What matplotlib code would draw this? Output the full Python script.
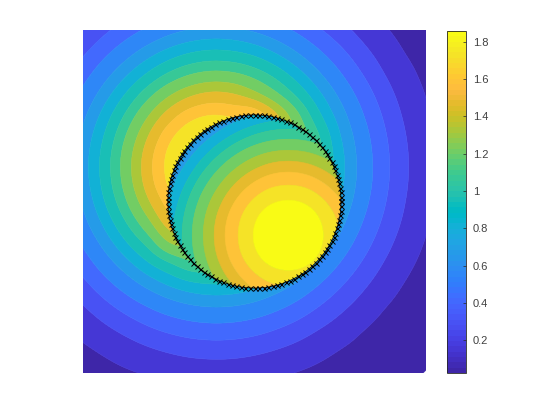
import matplotlib
matplotlib.use('Agg')
import matplotlib.pyplot as plt
from matplotlib.colors import ListedColormap, Normalize
from matplotlib.cm import ScalarMappable
from matplotlib.patches import Circle
import numpy as np

# field outside the ring, rows from top to bottom
z_outer = [
    [.292, .391, .487, .570, .640, .686, .713, .703, .663, .605, .526, .434, .340, .253, .177, .135, .104],
    [.394, .512, .625, .739, .847, .925, .959, .945, .889, .791, .672, .563, .448, .333, .239, .155, .124],
    [.494, .629, .782, .944, 1.079, 1.182, 1.226, 1.210, 1.134, 1.012, .859, .692, .554, .418, .292, .204, .140],
    [.583, .751, .952, 1.148, 1.313, 1.437, 1.494, 1.472, 1.376, 1.231, 1.042, .842, .653, .502, .359, .244, .154],
    [.656, .869, 1.098, 1.322, 1.527, 1.670, 1.733, 1.710, 1.680, 1.490, 1.235, .974, .748, .567, .410, .274, .178],
    [.716, .954, 1.211, 1.461, 1.684, 1.827, 1.921, 1.872, 1.761, 1.570, 1.322, 1.085, .820, .615, .448, .299, .197],
    [.749, .998, 1.265, 1.531, 1.759, 1.950, 2.080, 2.030, 1.834, 1.644, 1.386, 1.119, .860, .637, .467, .314, .207],
    [.745, .992, 1.258, 1.523, 1.750, 1.930, 2.060, 2.010, 1.825, 1.635, 1.378, 1.112, .855, .635, .465, .312, .205],
    [.703, .939, 1.191, 1.437, 1.655, 1.800, 1.861, 1.838, 1.735, 1.544, 1.302, 1.051, .806, .606, .441, .293, .194],
    [.642, .844, 1.066, 1.289, 1.520, 1.622, 1.686, 1.662, 1.556, 1.382, 1.175, .947, .727, .553, .400, .269, .172],
    [.563, .722, .917, 1.102, 1.310, 1.379, 1.434, 1.414, 1.322, 1.184, 1.004, .808, .633, .485, .346, .236, .151],
    [.472, .604, .745, .900, 1.029, 1.140, 1.167, 1.150, 1.075, .963, .815, .663, .532, .401, .280, .193, .137],
    [.373, .486, .594, .694, .796, .871, .903, .891, .834, .745, .641, .535, .422, .312, .226, .151, .120],
    [.275, .367, .456, .536, .603, .647, .666, .659, .627, .569, .496, .406, .315, .238, .162, .130, .099],
    [.201, .261, .325, .390, .442, .479, .495, .489, .462, .414, .357, .285, .230, .164, .134, .106, .075],
    [.143, .176, .225, .264, .297, .327, .339, .335, .313, .279, .245, .200, .153, .132, .107, .079, .048],
    [.113, .132, .148, .169, .198, .216, .224, .221, .207, .184, .154, .140, .122, .101, .076, .048, .021],
]

# field inside the ring, rows from top to bottom
z_inner = [
    [.215, .290, .375, .454, .525, .589, .637, .665, .674, .664, .634, .586, .522],
    [.290, .388, .486, .580, .666, .754, .821, .869, .884, .867, .817, .749, .658],
    [.375, .486, .599, .714, .838, .952, 1.047, 1.104, 1.122, 1.102, 1.043, .945, .831],
    [.454, .580, .714, .871, 1.029, 1.162, 1.257, 1.314, 1.332, 1.312, 1.253, 1.156, 1.020],
    [.525, .666, .838, 1.029, 1.201, 1.335, 1.443, 1.515, 1.539, 1.512, 1.438, 1.327, 1.191],
    [.589, .754, .952, 1.162, 1.335, 1.491, 1.618, 1.695, 1.720, 1.692, 1.612, 1.482, 1.325],
    [.637, .821, 1.047, 1.257, 1.443, 1.618, 1.750, 1.839, 1.879, 1.836, 1.743, 1.609, 1.433],
    [.665, .869, 1.104, 1.314, 1.515, 1.695, 1.839, 2.020, 2.085, 2.010, 1.831, 1.686, 1.503],
    [.674, .884, 1.122, 1.332, 1.539, 1.720, 1.879, 2.085, 2.150, 2.080, 1.862, 1.709, 1.527],
    [.664, .867, 1.102, 1.312, 1.512, 1.692, 1.836, 2.010, 2.080, 2.000, 1.828, 1.682, 1.500],
    [.634, .817, 1.043, 1.253, 1.438, 1.612, 1.743, 1.831, 1.862, 1.828, 1.736, 1.602, 1.428],
    [.586, .749, .945, 1.156, 1.327, 1.482, 1.609, 1.686, 1.709, 1.682, 1.602, 1.473, 1.319],
    [.522, .658, .831, 1.020, 1.191, 1.325, 1.433, 1.503, 1.527, 1.500, 1.428, 1.319, 1.182],
]

# contour levels of the filled bands
levels = [.025, .156, .287, .418, .549, .680, .811, .942, 1.073, 1.204,
          1.335, 1.466, 1.597, 1.728, 1.859]

# how far each level lies from the peak (pixels), outside and inside the ring
outer_vals = [-.1] + levels + [2.12]
outer_dist = [349, 290, 220, 192, 173, 156, 140, 128, 117, 106, 96, 85, 75, 64, 52, 35, 0]
inner_vals = [-.1] + levels + [1.95, 2.02, 2.085, 2.15]
inner_dist = [300, 230, 200, 182, 165, 150, 136, 125, 115, 106, 96, 85, 74, 63, 50, 35, 29, 23.5, 16.6, 0]

# crosses on the ring
x_ring = [.505, .504, .502, .499, .494, .488, .480, .471, .461, .450, .437, .424, .409, .392, .375,
          .357, .338, .318, .297, .275, .253, .229, .205, .181, .156, .131, .105, .079, .053, .026,
          0, -.026, -.053, -.079, -.105, -.131, -.156, -.181, -.205, -.229, -.253, -.275, -.297, -.318, -.338,
          -.357, -.375, -.392, -.409, -.424, -.437, -.450, -.461, -.471, -.480, -.488, -.494, -.499, -.502, -.504,
          -.505, -.504, -.502, -.499, -.494, -.488, -.480, -.471, -.461, -.450, -.437, -.424, -.409, -.392, -.375,
          -.357, -.338, -.318, -.297, -.275, -.253, -.229, -.205, -.181, -.156, -.131, -.105, -.079, -.053, -.026,
          0, .026, .053, .079, .105, .131, .156, .181, .205, .229, .253, .275, .297, .318, .338,
          .357, .375, .392, .409, .424, .437, .450, .461, .471, .480, .488, .494, .499, .502, .504, .505]
y_ring = [0, .026, .053, .079, .105, .131, .156, .181, .205, .229, .253, .275, .297, .318, .338,
          .357, .375, .392, .409, .424, .437, .450, .461, .471, .480, .488, .494, .499, .502, .504,
          .505, .504, .502, .499, .494, .488, .480, .471, .461, .450, .437, .424, .409, .392, .375,
          .357, .338, .318, .297, .275, .253, .229, .205, .181, .156, .131, .105, .079, .053, .026,
          0, -.026, -.053, -.079, -.105, -.131, -.156, -.181, -.205, -.229, -.253, -.275, -.297, -.318, -.338,
          -.357, -.375, -.392, -.409, -.424, -.437, -.450, -.461, -.471, -.480, -.488, -.494, -.499, -.502, -.504,
          -.505, -.504, -.502, -.499, -.494, -.488, -.480, -.471, -.461, -.450, -.437, -.424, -.409, -.392, -.375,
          -.357, -.338, -.318, -.297, -.275, -.253, -.229, -.205, -.181, -.156, -.131, -.105, -.079, -.053, -.026, 0]

cbar_ticks = [.2, .4, .6, .8, 1, 1.2, 1.4, 1.6, 1.8]
cbar_labels = ['0.2', '0.4', '0.6', '0.8', '1', '1.2', '1.4', '1.6', '1.8']
c_limits = (.025, 1.858)

# parula
parula = ListedColormap([
    [.2422, .1504, .6603], [.2504, .1650, .7076], [.2578, .1818, .7511], [.2647, .1978, .7952],
    [.2706, .2147, .8364], [.2751, .2342, .8710], [.2783, .2559, .8991], [.2803, .2782, .9221],
    [.2813, .3006, .9414], [.2810, .3228, .9579], [.2795, .3447, .9717], [.2760, .3667, .9829],
    [.2699, .3892, .9906], [.2602, .4123, .9952], [.2440, .4358, .9988], [.2206, .4603, .9973],
    [.1963, .4847, .9892], [.1834, .5074, .9798], [.1786, .5289, .9682], [.1764, .5499, .9520],
    [.1687, .5703, .9359], [.1540, .5902, .9218], [.1460, .6091, .9079], [.1380, .6276, .8973],
    [.1248, .6459, .8883], [.1113, .6635, .8763], [.0952, .6798, .8598], [.0689, .6948, .8394],
    [.0297, .7082, .8163], [.0036, .7203, .7917], [.0067, .7312, .7660], [.0433, .7411, .7394],
    [.0964, .7500, .7120], [.1408, .7584, .6842], [.1717, .7670, .6554], [.1938, .7758, .6251],
    [.2161, .7843, .5923], [.2470, .7918, .5567], [.2906, .7973, .5188], [.3406, .8008, .4789],
    [.3909, .8029, .4354], [.4456, .8024, .3909], [.5044, .7993, .3480], [.5616, .7942, .3045],
    [.6174, .7876, .2612], [.6720, .7793, .2227], [.7242, .7698, .1910], [.7738, .7598, .1646],
    [.8203, .7498, .1535], [.8634, .7406, .1596], [.9035, .7330, .1774], [.9393, .7288, .2100],
    [.9728, .7298, .2394], [.9956, .7434, .2371], [.9970, .7659, .2199], [.9952, .7861, .1990],
    [.9892, .8136, .1885], [.9786, .8386, .1766], [.9676, .8639, .1643], [.9610, .8890, .1537],
    [.9597, .9135, .1423], [.9628, .9373, .1265], [.9691, .9606, .1064], [.9769, .9839, .0805],
])

plt.rcParams['font.family'] = ['Liberation Sans', 'DejaVu Sans']
W, H = 560, 420
fig = plt.figure(figsize=(W / 100, H / 100), dpi=100)
ax = fig.add_axes([83 / W, 1 - 373 / H, 343 / W, 343 / H])

norm = Normalize(*c_limits)
band_colors = [parula(norm(lev)) for lev in levels]


def smooth_rows(z, n=5):
    """Catmull-Rom between grid rows, so the bands come out round."""
    z = np.vstack([2 * z[0] - z[1], z, 2 * z[-1] - z[-2]])
    out = []
    for i in range(1, len(z) - 2):
        for t in np.arange(n) / n:
            out.append(.5 * (2 * z[i] + (z[i + 1] - z[i - 1]) * t
                             + (2 * z[i - 1] - 5 * z[i] + 4 * z[i + 1] - z[i + 2]) * t ** 2
                             + (3 * z[i] - z[i - 1] - 3 * z[i + 1] + z[i + 2]) * t ** 3))
    out.append(z[-2])
    return np.array(out)


def fill_bands(z, extent, vals, dist):
    # smooth in distance, not in value: the value profile has a kink at every level
    d = np.interp(np.array(z), vals, dist)
    d = smooth_rows(smooth_rows(d).T).T
    lev_d = np.interp(levels, vals, dist)
    xx = np.linspace(-extent, extent, d.shape[1])
    yy = np.linspace(extent, -extent, d.shape[0])
    cs = ax.contourf(xx, yy, -d, levels=list(-lev_d) + [5], colors=band_colors, antialiased=True)
    cs.set_edgecolor('face')
    cs.set_linewidth(.4)
    return cs


fill_bands(z_outer, 1, outer_vals, outer_dist)
inner = fill_bands(z_inner, .6, inner_vals, inner_dist)
inner.set_clip_path(Circle((0, 0), .505, transform=ax.transData))

ax.plot(x_ring, y_ring, 'k-', lw=.5, marker='x', ms=3.6, mew=.7)
ax.set_xlim(-1, 1)
ax.set_ylim(-1, 1)
ax.axis('off')

cax = fig.add_axes([447 / W, 1 - 373 / H, 19 / W, 342 / H])
cb = fig.colorbar(ScalarMappable(norm=norm, cmap=parula), cax=cax)
cb.set_ticks(cbar_ticks, labels=cbar_labels)
cb.ax.tick_params(direction='in', length=2.5, width=.5, color='#262626',
                  labelcolor='#404040', labelsize=8, pad=5)
cb.outline.set_linewidth(.6)
cb.outline.set_edgecolor('#262626')

fig.savefig('out.png', dpi=100)
